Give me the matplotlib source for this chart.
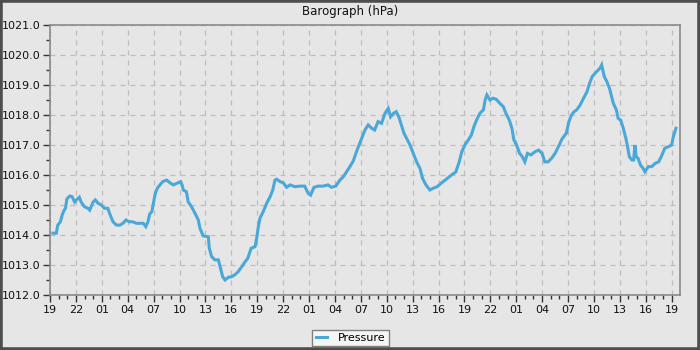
import matplotlib
matplotlib.use("Agg")
import matplotlib.pyplot as plt
from matplotlib.ticker import FixedLocator, MultipleLocator
from matplotlib.patches import Rectangle

# hours since 19:00 on the first day
hours = [0.35, 0.73, 0.9, 1.2, 1.45, 1.6, 1.8, 1.95, 2.3, 2.55, 2.86, 3.05, 3.4, 3.6,
         4.0, 4.4, 4.6, 5.0, 5.25, 5.56, 5.95, 6.3, 6.7, 6.9, 7.3, 7.7, 8.1, 8.45, 8.8,
         9.2, 9.6, 10.0, 10.4, 10.8, 11.1, 11.35, 11.55, 11.8, 12.0, 12.2, 12.43, 12.74,
         13.05, 13.51, 13.9, 14.28, 14.67, 15.13, 15.3, 15.44, 15.8, 16.0, 16.4, 16.8,
         17.18, 17.37, 17.75, 18.34, 18.45, 18.72, 19.1, 19.5, 19.7, 20.0, 20.27, 20.65,
         21.04, 21.4, 21.8, 22.2, 22.6, 22.9, 23.3, 23.75, 23.94, 24.1, 24.32, 24.7, 25.1,
         25.5, 25.8, 26.06, 26.25, 26.65, 27.02, 27.4, 27.8, 28.37, 28.95, 29.5, 29.9,
         30.19, 30.57, 31.07, 31.65, 32.2, 32.6, 33.1, 33.58, 33.97, 34.35, 34.74, 35.13,
         35.5, 35.9, 36.2, 36.48, 36.86, 37.25, 37.6, 38.0, 38.4, 38.8, 39.18, 39.45, 39.8,
         40.1, 40.4, 40.7, 41.0, 41.3, 41.7, 42.07, 42.46, 42.85, 43.15, 43.54, 44.0, 44.39,
         44.85, 45.36, 45.9, 46.5, 47.0, 47.4, 47.7, 48.06, 48.45, 48.8, 49.1, 49.4, 49.8,
         50.2, 50.4, 50.6, 50.96, 51.3, 51.7, 52.1, 52.5, 52.8, 53.2, 53.5, 53.73, 54.04,
         54.4, 54.7, 55.0, 55.3, 55.7, 56.2, 56.6, 57.0, 57.3, 57.7, 58.1, 58.5, 58.9, 59.3,
         59.8, 60.1, 60.4, 60.7, 61.0, 61.4, 61.8, 62.2, 62.5, 62.8, 63.3, 63.7, 63.9, 64.2,
         64.5, 64.8, 65.05, 65.25, 65.6, 65.8, 66.1, 66.4, 66.7, 66.9, 67.1, 67.4, 67.6,
         67.75, 67.9, 68.1, 68.4, 68.7, 68.9, 69.3, 69.7, 70.1, 70.5, 70.8, 71.2, 71.6,
         72.0, 72.2, 72.5]
pressure = [1014.06, 1014.06, 1014.33, 1014.44, 1014.7, 1014.8, 1014.9, 1015.2, 1015.3,
            1015.28, 1015.1, 1015.17, 1015.26, 1015.1, 1014.94, 1014.89, 1014.83, 1015.1,
            1015.17, 1015.06, 1015.0, 1014.89, 1014.89, 1014.72, 1014.44, 1014.33, 1014.33,
            1014.39, 1014.5, 1014.44, 1014.44, 1014.39, 1014.39, 1014.39, 1014.28, 1014.44,
            1014.7, 1014.78, 1015.1, 1015.39, 1015.56, 1015.67, 1015.78, 1015.83, 1015.74,
            1015.67, 1015.72, 1015.78, 1015.67, 1015.5, 1015.44, 1015.11, 1014.94, 1014.72,
            1014.5, 1014.22, 1013.97, 1013.94, 1013.56, 1013.28, 1013.17, 1013.17, 1012.94,
            1012.61, 1012.5, 1012.59, 1012.61, 1012.67, 1012.78, 1012.94, 1013.11, 1013.22,
            1013.56, 1013.61, 1013.89, 1014.22, 1014.56, 1014.78, 1015.06, 1015.28, 1015.5,
            1015.83, 1015.86, 1015.78, 1015.74, 1015.59, 1015.67, 1015.61, 1015.63, 1015.63,
            1015.39, 1015.33, 1015.59, 1015.63, 1015.63, 1015.67, 1015.59, 1015.63, 1015.83,
            1015.94, 1016.11, 1016.28, 1016.47, 1016.78, 1017.07, 1017.28, 1017.5, 1017.67,
            1017.56, 1017.5, 1017.78, 1017.72, 1018.06, 1018.22, 1017.94, 1018.06, 1018.11,
            1017.94, 1017.67, 1017.39, 1017.22, 1017.0, 1016.72, 1016.44, 1016.22, 1015.89,
            1015.67, 1015.5, 1015.56, 1015.61, 1015.74, 1015.86, 1016.0, 1016.1, 1016.44,
            1016.78, 1017.0, 1017.17, 1017.33, 1017.61, 1017.83, 1018.06, 1018.17, 1018.5,
            1018.67, 1018.5, 1018.56, 1018.52, 1018.39, 1018.28, 1018.06, 1017.83, 1017.56,
            1017.17, 1017.0, 1016.72, 1016.61, 1016.44, 1016.72, 1016.67, 1016.78, 1016.83,
            1016.72, 1016.44, 1016.44, 1016.56, 1016.72, 1016.95, 1017.2, 1017.39, 1017.78,
            1018.0, 1018.11, 1018.17, 1018.33, 1018.56, 1018.78, 1019.06, 1019.28, 1019.44,
            1019.56, 1019.67, 1019.28, 1019.11, 1018.89, 1018.61, 1018.39, 1018.17, 1017.89,
            1017.83, 1017.56, 1017.22, 1016.94, 1016.61, 1016.5, 1016.5, 1017.0, 1016.61,
            1016.56, 1016.33, 1016.22, 1016.11, 1016.28, 1016.28, 1016.39, 1016.44, 1016.61,
            1016.89, 1016.94, 1017.0, 1017.28, 1017.56]

tick_hours = list(range(0, 73, 3))
tick_labels = ["19", "22", "01", "04", "07", "10", "13", "16",
               "19", "22", "01", "04", "07", "10", "13", "16",
               "19", "22", "01", "04", "07", "10", "13", "16", "19"]
y_ticks = [1012, 1013, 1014, 1015, 1016, 1017, 1018, 1019, 1020, 1021]

bg = "#e6e6e6"
fig = plt.figure(figsize=(7, 3.5), dpi=100, facecolor=bg)
ax = fig.add_axes([50/700, 1-295/350, 630/700, 270/350])
ax.set_facecolor(bg)

ax.plot(hours, pressure, color="#4aa8d8", lw=2.2, label="Pressure",
        solid_joinstyle="miter")

ax.set_xlim(0, 72.97)
ax.set_ylim(1012, 1021)
ax.xaxis.set_major_locator(FixedLocator(tick_hours))
ax.set_xticklabels(tick_labels)
ax.xaxis.set_minor_locator(MultipleLocator(1))
ax.yaxis.set_major_locator(FixedLocator(y_ticks))
ax.set_yticklabels([f"{v:.1f}" for v in y_ticks])
ax.yaxis.set_minor_locator(MultipleLocator(0.5))

ax.tick_params(axis="both", which="major", length=5, width=1, color="#333333",
               labelsize=8, labelcolor="#111111", pad=2)
ax.tick_params(axis="both", which="minor", length=3, width=1, color="#333333")

ax.grid(True, which="major", color="#bdbdbd", linestyle=(0, (4, 4)), linewidth=0.9)
ax.set_axisbelow(True)
for s in ax.spines.values():
    s.set_color("#8a8a8a")
    s.set_linewidth(1.2)

fig.text(0.5, 1-12/350, "Barograph (hPa)", ha="center", va="center",
         fontsize=8.5, color="#111111")

leg = fig.legend(loc="center", bbox_to_anchor=(350.5/700, 1-338/350), ncol=1,
                 fontsize=8, frameon=True, fancybox=False, handlelength=1.0,
                 handletextpad=1.0, borderpad=0.3, borderaxespad=0)
leg.get_frame().set_edgecolor("#808080")
leg.get_frame().set_facecolor("#f5f5f5")
leg.get_frame().set_linewidth(1.0)
leg.get_frame().set_alpha(1)

fig.patches.append(Rectangle((0, 0), 1, 1, transform=fig.transFigure,
                             fill=False, edgecolor="#4d4d4d", linewidth=4,
                             zorder=10))

fig.savefig("out.png", dpi=100, facecolor=bg)
